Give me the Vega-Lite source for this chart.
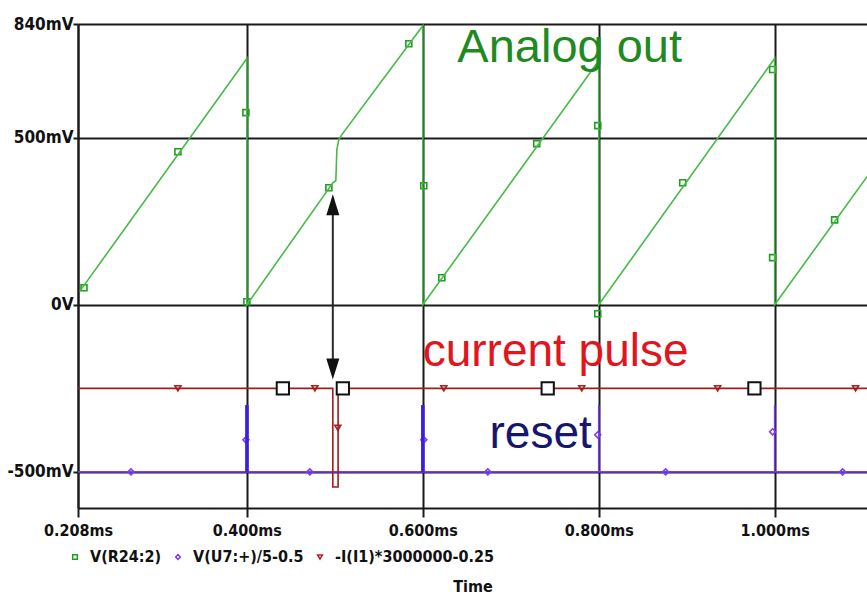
{
  "$schema": "https://vega.github.io/schema/vega-lite/v6.json",
  "autosize": "none",
  "width": 789,
  "height": 484,
  "padding": {"left": 78, "top": 24, "right": 0, "bottom": 94},
  "background": "white",
  "config": {
    "view": {"stroke": null},
    "axis": {
      "labelFont": "DejaVu Sans Condensed",
      "labelFontWeight": "bold",
      "labelColor": "#111111",
      "titleFont": "DejaVu Sans Condensed",
      "titleFontWeight": "bold",
      "titleColor": "#111111",
      "gridColor": "#1a1a1a",
      "gridWidth": 2,
      "gridOpacity": 1,
      "domainColor": "#1a1a1a",
      "domainWidth": 2,
      "tickColor": "#1a1a1a",
      "tickWidth": 2
    },
    "legend": {
      "labelFont": "DejaVu Sans Condensed",
      "labelFontWeight": "bold"
    }
  },
  "datasets": {
    "curves": [
      {"s": "V(R24:2)", "o": 1, "t": 0.210, "v": 0.04},
      {"s": "V(R24:2)", "o": 2, "t": 0.4, "v": 0.737},
      {"s": "V(R24:2)", "o": 3, "t": 0.4, "v": 0.0},
      {"s": "V(R24:2)", "o": 4, "t": 0.4977, "v": 0.365},
      {"s": "V(R24:2)", "o": 5, "t": 0.5011, "v": 0.371},
      {"s": "V(R24:2)", "o": 6, "t": 0.5023, "v": 0.464},
      {"s": "V(R24:2)", "o": 7, "t": 0.5045, "v": 0.494},
      {"s": "V(R24:2)", "o": 8, "t": 0.508, "v": 0.509},
      {"s": "V(R24:2)", "o": 9, "t": 0.6, "v": 0.835},
      {"s": "V(R24:2)", "o": 10, "t": 0.6, "v": 0.0},
      {"s": "V(R24:2)", "o": 11, "t": 0.8, "v": 0.73},
      {"s": "V(R24:2)", "o": 12, "t": 0.8, "v": 0.0},
      {"s": "V(R24:2)", "o": 13, "t": 1.0, "v": 0.737},
      {"s": "V(R24:2)", "o": 14, "t": 1.0, "v": 0.0},
      {"s": "V(R24:2)", "o": 15, "t": 1.105, "v": 0.383},
      {"s": "V(U7:+)/5-0.5", "o": 1, "t": 0.208, "v": -0.5},
      {"s": "V(U7:+)/5-0.5", "o": 2, "t": 0.4, "v": -0.5},
      {"s": "V(U7:+)/5-0.5", "o": 3, "t": 0.4, "v": -0.3},
      {"s": "V(U7:+)/5-0.5", "o": 4, "t": 0.4, "v": -0.5},
      {"s": "V(U7:+)/5-0.5", "o": 5, "t": 0.6, "v": -0.5},
      {"s": "V(U7:+)/5-0.5", "o": 6, "t": 0.6, "v": -0.3},
      {"s": "V(U7:+)/5-0.5", "o": 7, "t": 0.6, "v": -0.5},
      {"s": "V(U7:+)/5-0.5", "o": 8, "t": 0.8, "v": -0.5},
      {"s": "V(U7:+)/5-0.5", "o": 9, "t": 0.8, "v": -0.3},
      {"s": "V(U7:+)/5-0.5", "o": 10, "t": 0.8, "v": -0.5},
      {"s": "V(U7:+)/5-0.5", "o": 11, "t": 1.0, "v": -0.5},
      {"s": "V(U7:+)/5-0.5", "o": 12, "t": 1.0, "v": -0.3},
      {"s": "V(U7:+)/5-0.5", "o": 13, "t": 1.0, "v": -0.5},
      {"s": "V(U7:+)/5-0.5", "o": 14, "t": 1.105, "v": -0.5},
      {"s": "-I(I1)*3000000-0.25", "o": 1, "t": 0.208, "v": -0.25},
      {"s": "-I(I1)*3000000-0.25", "o": 2, "t": 0.4977, "v": -0.25},
      {"s": "-I(I1)*3000000-0.25", "o": 3, "t": 0.4977, "v": -0.545},
      {"s": "-I(I1)*3000000-0.25", "o": 4, "t": 0.5037, "v": -0.545},
      {"s": "-I(I1)*3000000-0.25", "o": 5, "t": 0.5037, "v": -0.25},
      {"s": "-I(I1)*3000000-0.25", "o": 6, "t": 1.105, "v": -0.25}
    ],
    "markers": [
      {"s": "V(R24:2)", "t": 0.2148, "v": 0.051},
      {"s": "V(R24:2)", "t": 0.3216, "v": 0.458},
      {"s": "V(R24:2)", "t": 0.3989, "v": 0.575},
      {"s": "V(R24:2)", "t": 0.4, "v": 0.009},
      {"s": "V(R24:2)", "t": 0.4932, "v": 0.35},
      {"s": "V(R24:2)", "t": 0.5841, "v": 0.781},
      {"s": "V(R24:2)", "t": 0.6011, "v": 0.356},
      {"s": "V(R24:2)", "t": 0.6216, "v": 0.081},
      {"s": "V(R24:2)", "t": 0.7295, "v": 0.482},
      {"s": "V(R24:2)", "t": 0.7989, "v": 0.536},
      {"s": "V(R24:2)", "t": 0.7989, "v": -0.027},
      {"s": "V(R24:2)", "t": 0.8955, "v": 0.365},
      {"s": "V(R24:2)", "t": 0.9977, "v": 0.704},
      {"s": "V(R24:2)", "t": 0.9977, "v": 0.141},
      {"s": "V(R24:2)", "t": 1.0682, "v": 0.254},
      {"s": "V(U7:+)/5-0.5", "t": 0.2682, "v": -0.5},
      {"s": "V(U7:+)/5-0.5", "t": 0.3989, "v": -0.404},
      {"s": "V(U7:+)/5-0.5", "t": 0.4716, "v": -0.5},
      {"s": "V(U7:+)/5-0.5", "t": 0.6011, "v": -0.404},
      {"s": "V(U7:+)/5-0.5", "t": 0.6739, "v": -0.5},
      {"s": "V(U7:+)/5-0.5", "t": 0.7989, "v": -0.389},
      {"s": "V(U7:+)/5-0.5", "t": 0.8761, "v": -0.5},
      {"s": "V(U7:+)/5-0.5", "t": 0.9977, "v": -0.38},
      {"s": "V(U7:+)/5-0.5", "t": 1.0773, "v": -0.5},
      {"s": "-I(I1)*3000000-0.25", "t": 0.3216, "v": -0.25},
      {"s": "-I(I1)*3000000-0.25", "t": 0.4773, "v": -0.25},
      {"s": "-I(I1)*3000000-0.25", "t": 0.5034, "v": -0.368},
      {"s": "-I(I1)*3000000-0.25", "t": 0.6239, "v": -0.25},
      {"s": "-I(I1)*3000000-0.25", "t": 0.7807, "v": -0.25},
      {"s": "-I(I1)*3000000-0.25", "t": 0.9352, "v": -0.25},
      {"s": "-I(I1)*3000000-0.25", "t": 1.092, "v": -0.25}
    ],
    "spikes": [
      {"t": 0.4, "v1": -0.5, "v2": -0.3},
      {"t": 0.6, "v1": -0.5, "v2": -0.3}
    ],
    "cursors": [
      {"t": 0.4409, "v": -0.25},
      {"t": 0.5091, "v": -0.25},
      {"t": 0.742, "v": -0.25},
      {"t": 0.977, "v": -0.25}
    ],
    "arrow": [
      {"t": 0.4977, "v1": 0.29, "v2": -0.18}
    ],
    "heads": [
      {"t": 0.4977, "v": 0.299, "dir": "up"},
      {"t": 0.4977, "v": -0.192, "dir": "down"}
    ],
    "notes": [
      {"label": "Analog out", "t": 0.767, "v": 0.7275},
      {"label": "current pulse", "t": 0.751, "v": -0.183},
      {"label": "reset", "t": 0.734, "v": -0.428}
    ]
  },
  "layer": [
    {
      "data": {"name": "markers"},
      "mark": {"type": "point", "filled": false, "strokeWidth": 1.6, "size": 36, "opacity": 1},
      "encoding": {
        "x": {
          "field": "t", "type": "quantitative",
          "scale": {"domain": [0.208, 1.105], "nice": false, "zero": false},
          "axis": {
            "values": [0.208, 0.4, 0.6, 0.8, 1.0],
            "labelExpr": "format(datum.value, '.3f') + 'ms'",
            "labelFontSize": 16,
            "tickSize": 9,
            "labelPadding": 5,
            "labelFlush": false,
            "title": "Time",
            "titleFontSize": 16,
            "titleY": 83,
            "titleBaseline": "alphabetic",
            "grid": true
          }
        },
        "y": {
          "field": "v", "type": "quantitative",
          "scale": {"domain": [-0.608, 0.84], "nice": false, "zero": false},
          "axis": {
            "values": [0.84, 0.5, 0, -0.5],
            "labelExpr": "datum.value == 0.84 ? '840mV' : datum.value == 0.5 ? '500mV' : datum.value == 0 ? '0V' : '-500mV'",
            "labelFontSize": 17,
            "tickSize": 5,
            "labelPadding": 0,
            "labelFlush": false,
            "title": null,
            "grid": true
          }
        },
        "color": {
          "field": "s", "type": "nominal",
          "scale": {"domain": ["V(R24:2)", "V(U7:+)/5-0.5", "-I(I1)*3000000-0.25"], "range": ["#1f9e1f", "#7a3cf0", "#b02020"]},
          "legend": {
            "orient": "none", "direction": "horizontal", "legendX": -11, "legendY": 525,
            "title": null, "labelFontSize": 16, "labelColor": "#111111",
            "symbolSize": 22, "symbolStrokeWidth": 1.5, "labelOffset": 7, "columnPadding": 8
          }
        },
        "shape": {
          "field": "s", "type": "nominal",
          "scale": {"domain": ["V(R24:2)", "V(U7:+)/5-0.5", "-I(I1)*3000000-0.25"], "range": ["square", "diamond", "triangle-down"]},
          "legend": {
            "orient": "none", "direction": "horizontal", "legendX": -11, "legendY": 525,
            "title": null, "labelFontSize": 16, "labelColor": "#111111",
            "symbolSize": 22, "symbolStrokeWidth": 1.5, "labelOffset": 7, "columnPadding": 8
          }
        }
      }
    },
    {
      "data": {"name": "curves"},
      "mark": {"type": "line", "strokeWidth": 1.6, "clip": true, "interpolate": "linear"},
      "encoding": {
        "x": {"field": "t", "type": "quantitative"},
        "y": {"field": "v", "type": "quantitative"},
        "stroke": {
          "field": "s", "type": "nominal",
          "scale": {"domain": ["V(R24:2)", "V(U7:+)/5-0.5", "-I(I1)*3000000-0.25"], "range": ["#45bb45", "#7a3cf0", "#a01c1c"]},
          "legend": null
        },
        "order": {"field": "o", "type": "quantitative"}
      }
    },
    {
      "data": {"name": "spikes"},
      "mark": {"type": "rule", "color": "#3a1ee6", "strokeWidth": 3.5},
      "encoding": {
        "x": {"field": "t", "type": "quantitative"},
        "y": {"field": "v1", "type": "quantitative"},
        "y2": {"field": "v2"}
      }
    },
    {
      "data": {"name": "cursors"},
      "mark": {"type": "point", "shape": "square", "filled": true, "fill": "white", "stroke": "#111111", "strokeWidth": 2, "size": 150, "opacity": 1},
      "encoding": {
        "x": {"field": "t", "type": "quantitative"},
        "y": {"field": "v", "type": "quantitative"}
      }
    },
    {
      "data": {"name": "arrow"},
      "mark": {"type": "rule", "color": "#2a2a2a", "strokeWidth": 2},
      "encoding": {
        "x": {"field": "t", "type": "quantitative"},
        "y": {"field": "v1", "type": "quantitative"},
        "y2": {"field": "v2"}
      }
    },
    {
      "data": {"name": "heads"},
      "transform": [{"filter": "datum.dir == 'up'"}],
      "mark": {"type": "point", "shape": "M0,-1L0.62,1L-0.62,1Z", "filled": true, "color": "#111111", "size": 440, "opacity": 1},
      "encoding": {
        "x": {"field": "t", "type": "quantitative"},
        "y": {"field": "v", "type": "quantitative"}
      }
    },
    {
      "data": {"name": "heads"},
      "transform": [{"filter": "datum.dir == 'down'"}],
      "mark": {"type": "point", "shape": "M0,1L0.62,-1L-0.62,-1Z", "filled": true, "color": "#111111", "size": 440, "opacity": 1},
      "encoding": {
        "x": {"field": "t", "type": "quantitative"},
        "y": {"field": "v", "type": "quantitative"}
      }
    },
    {
      "data": {"name": "notes"},
      "transform": [{"filter": "datum.label == 'Analog out'"}],
      "mark": {"type": "text", "font": "Liberation Sans", "fontSize": 47, "color": "#1f8a1f", "align": "center", "baseline": "alphabetic"},
      "encoding": {
        "x": {"field": "t", "type": "quantitative"},
        "y": {"field": "v", "type": "quantitative"},
        "text": {"field": "label"}
      }
    },
    {
      "data": {"name": "notes"},
      "transform": [{"filter": "datum.label == 'current pulse'"}],
      "mark": {"type": "text", "font": "Liberation Sans", "fontSize": 46, "color": "#e3141c", "align": "center", "baseline": "alphabetic"},
      "encoding": {
        "x": {"field": "t", "type": "quantitative"},
        "y": {"field": "v", "type": "quantitative"},
        "text": {"field": "label"}
      }
    },
    {
      "data": {"name": "notes"},
      "transform": [{"filter": "datum.label == 'reset'"}],
      "mark": {"type": "text", "font": "Liberation Sans", "fontSize": 46, "color": "#16166e", "align": "center", "baseline": "alphabetic"},
      "encoding": {
        "x": {"field": "t", "type": "quantitative"},
        "y": {"field": "v", "type": "quantitative"},
        "text": {"field": "label"}
      }
    }
  ]
}
